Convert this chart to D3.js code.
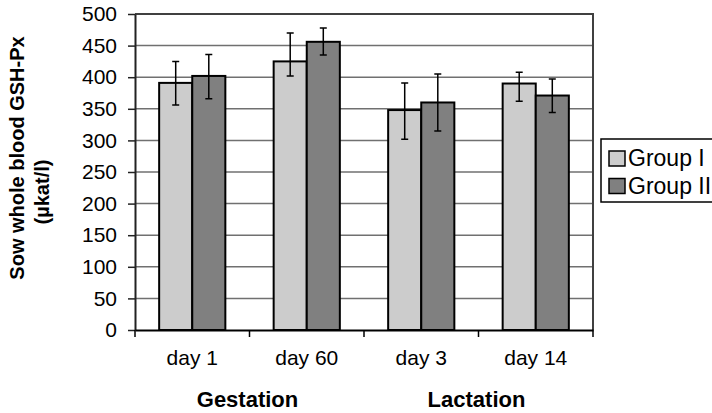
<!DOCTYPE html>
<html>
<head>
<meta charset="utf-8">
<script src="https://cdn.jsdelivr.net/npm/d3@7"></script>
<style>
	body { margin: 0; background: #fff; }
	svg text { font-family: "Liberation Sans", Arial, Helvetica, sans-serif; fill: #000; }
</style>
</head>
<body>
<div id="graphic"></div>
<script>
// chart data
const categories = ['day 1', 'day 60', 'day 3', 'day 14'];
const phases = [
	{ label: 'Gestation', cats: ['day 1', 'day 60'] },
	{ label: 'Lactation', cats: ['day 3', 'day 14'] }
];
const groups = ['Group I', 'Group II'];
const groupI = [391, 425, 348, 390];
const groupII = [402, 456, 360, 371];
const groupIErrUp = [34, 45, 43, 18];
const groupIErrDown = [35, 23, 46, 28];
const groupIIErrUp = [34, 22, 45, 26];
const groupIIErrDown = [36, 21, 45, 27];
const yTicks = [0, 50, 100, 150, 200, 250, 300, 350, 400, 450, 500];

const colours = ['#cccccc', '#808080'];

const width = 712, height = 413;
const margin = { top: 14, left: 135, right: 119, bottom: 83 };
const chart_width = width - margin.left - margin.right;
const chart_height = height - margin.top - margin.bottom;

// tidy data
const graphic_data = categories.flatMap((c, i) => [
	{ cat: c, group: groups[0], value: groupI[i], up: groupIErrUp[i], down: groupIErrDown[i] },
	{ cat: c, group: groups[1], value: groupII[i], up: groupIIErrUp[i], down: groupIIErrDown[i] }
]);

const svg = d3.select('#graphic')
	.append('svg')
	.attr('width', width)
	.attr('height', height)
	.append('g')
	.attr('transform', 'translate(' + margin.left + ',' + margin.top + ')');

// scales
const x0 = d3.scaleBand()
	.domain(categories)
	.range([0, chart_width])
	.paddingInner(0)
	.paddingOuter(0);

const x1 = d3.scaleBand()
	.domain(groups)
	.range([0, x0.bandwidth()])
	.paddingInner(0)
	.paddingOuter(0.73);

const y = d3.scaleLinear()
	.domain([0, 500])
	.range([chart_height, 0]);

// gridlines
svg.append('g')
	.selectAll('line')
	.data(yTicks.filter(d => d > 0 && d < 500))
	.join('line')
	.attr('x1', 0)
	.attr('x2', chart_width)
	.attr('y1', d => y(d))
	.attr('y2', d => y(d))
	.attr('stroke', '#707070')
	.attr('stroke-width', 1.5);

// frame top and right
svg.append('path')
	.attr('d', 'M0,' + y(500) + 'H' + chart_width + 'V' + chart_height)
	.attr('fill', 'none')
	.attr('stroke', '#404040')
	.attr('stroke-width', 2);

// y axis
const yAxis = svg.append('g')
	.call(d3.axisLeft(y).tickValues(yTicks).tickSize(7).tickPadding(11).tickSizeOuter(0));
yAxis.select('.domain').attr('stroke', '#222').attr('stroke-width', 2);
yAxis.selectAll('.tick line').attr('stroke', '#222').attr('stroke-width', 1.5);
yAxis.selectAll('text')
	.style('font-size', '21px')
	.attr('font-family', null);

// bars
const bars = svg.append('g')
	.selectAll('g')
	.data(graphic_data)
	.join('g')
	.attr('transform', d => 'translate(' + (x0(d.cat) + x1(d.group)) + ',0)');

bars.append('rect')
	.attr('x', 0)
	.attr('y', d => y(d.value))
	.attr('width', x1.bandwidth())
	.attr('height', d => y(0) - y(d.value))
	.attr('fill', (d, i) => colours[groups.indexOf(d.group)])
	.attr('stroke', '#000')
	.attr('stroke-width', 2);

// error bars
const cap = 3.5;
bars.append('path')
	.attr('d', d => {
		const cx = x1.bandwidth() / 2;
		const hi = y(d.value + d.up), lo = y(d.value - d.down);
		return 'M' + cx + ',' + hi + 'V' + lo +
			'M' + (cx - cap) + ',' + hi + 'H' + (cx + cap) +
			'M' + (cx - cap) + ',' + lo + 'H' + (cx + cap);
	})
	.attr('fill', 'none')
	.attr('stroke', '#000')
	.attr('stroke-width', 1.5);

// x axis
const xAxis = svg.append('g')
	.attr('transform', 'translate(0,' + chart_height + ')')
	.call(d3.axisBottom(x0).tickSize(0).tickPadding(20));
xAxis.select('.domain').attr('stroke', '#000').attr('stroke-width', 2);
xAxis.selectAll('text')
	.style('font-size', '21px')
	.attr('font-family', null);

// x tick marks at band edges
svg.append('g')
	.selectAll('line')
	.data(categories.map(c => x0(c)).concat([chart_width]))
	.join('line')
	.attr('x1', d => d)
	.attr('x2', d => d)
	.attr('y1', chart_height)
	.attr('y2', chart_height + 7)
	.attr('stroke', '#000')
	.attr('stroke-width', 1.5);

// phase labels
svg.append('g')
	.selectAll('text')
	.data(phases)
	.join('text')
	.attr('x', d => (x0(d.cats[0]) + x0(d.cats[1]) + x0.bandwidth()) / 2 - 2)
	.attr('y', chart_height + 77)
	.attr('text-anchor', 'middle')
	.style('font-size', '22px')
	.style('font-weight', 'bold')
	.text(d => d.label);

// y axis label, two lines
const yLabelLines = [
	{ text: 'Sow whole blood GSH-Px', x: 24, y: 158 },
	{ text: '(µkat/l)', x: 49, y: 192 }
];
d3.select('svg').append('g')
	.selectAll('text')
	.data(yLabelLines)
	.join('text')
	.attr('transform', d => 'translate(' + d.x + ',' + d.y + ') rotate(-90)')
	.attr('text-anchor', 'middle')
	.style('font-size', '20px')
	.style('font-weight', 'bold')
	.text(d => d.text);

// legend
const legend = d3.select('svg').append('g')
	.attr('transform', 'translate(601,139)');

legend.append('rect')
	.attr('x', 0)
	.attr('y', 0)
	.attr('width', 130)
	.attr('height', 63)
	.attr('fill', '#fff')
	.attr('stroke', '#000')
	.attr('stroke-width', 1.5);

const item = legend.selectAll('g.item')
	.data(groups)
	.join('g')
	.attr('class', 'item')
	.attr('transform', (d, i) => 'translate(8,' + (12 + i * 27.5) + ')');

item.append('rect')
	.attr('width', 16)
	.attr('height', 15)
	.attr('fill', (d, i) => colours[i])
	.attr('stroke', '#000')
	.attr('stroke-width', 1.5);

item.append('text')
	.attr('x', 19)
	.attr('y', 15)
	.style('font-size', '23px')
	.text(d => d);
</script>
</body>
</html>
